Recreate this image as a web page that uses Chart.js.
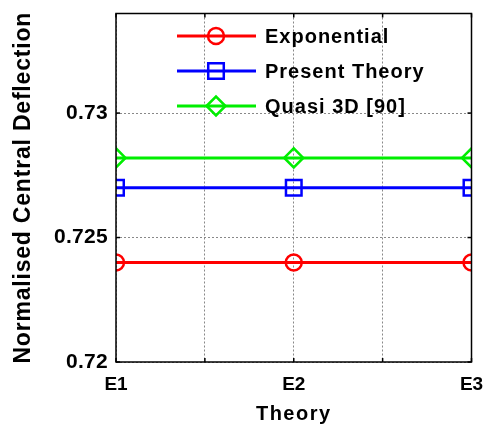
<!DOCTYPE html>
<html><head><meta charset="utf-8">
<script src="https://cdn.jsdelivr.net/npm/chart.js@4.4.0/dist/chart.umd.min.js"></script>
<style>html,body{margin:0;padding:0;background:#fff}#wrap{width:485px;height:430px}</style>
</head><body><div id="wrap"><canvas id="c" width="485" height="430"></canvas></div>
<script>
const categories = ['E1', 'E2', 'E3'];
const exponential = [0.7240, 0.7240, 0.7240];
const presentTheory = [0.7270, 0.7270, 0.7270];
const quasi3D = [0.7282, 0.7282, 0.7282];
const yTickValues = [0.72, 0.725, 0.73];
const seriesNames = ['Exponential', 'Present Theory', 'Quasi 3D [90]'];

const FONT = '"Liberation Sans", Arial, sans-serif';
const pts = arr => arr.map((v, i) => ({x: i + 1, y: v}));

function ds(label, data, color, style, radius) {
  return {label, data: pts(data), borderColor: color, backgroundColor: 'rgba(0,0,0,0)',
    borderWidth: 3, pointStyle: style, pointRadius: radius, pointHoverRadius: radius,
    pointBorderWidth: 2.5, pointBorderColor: color, pointBackgroundColor: 'rgba(0,0,0,0)', tension: 0};
}

function spaced(scale, titleSp, labelSp) {
  if (scale._patched) return;
  scale._patched = true;
  const dt = scale.drawTitle, dl = scale.drawLabels;
  scale.drawTitle = function (...a) { const c = this.ctx; c.save(); c.letterSpacing = titleSp; dt.apply(this, a); c.restore(); };
  scale.drawLabels = function (...a) { const c = this.ctx; c.save(); c.letterSpacing = labelSp; dl.apply(this, a); c.restore(); };
}

const boxPlugin = {
  id: 'box',
  afterDatasetsDraw(chart) {
    const {ctx, chartArea: a, scales: {x, y}} = chart;
    ctx.save();
    ctx.strokeStyle = '#000'; ctx.lineWidth = 1.5;
    ctx.strokeRect(a.left, a.top, a.right - a.left, a.bottom - a.top);
    [1, 1.5, 2, 2.5, 3].forEach(v => {
      const px = x.getPixelForValue(v);
      ctx.beginPath(); ctx.moveTo(px, a.bottom); ctx.lineTo(px, a.bottom - 4); ctx.stroke();
      ctx.beginPath(); ctx.moveTo(px, a.top); ctx.lineTo(px, a.top + 4); ctx.stroke();
    });
    yTickValues.forEach(v => {
      const py = y.getPixelForValue(v);
      ctx.beginPath(); ctx.moveTo(a.left, py); ctx.lineTo(a.left + 4, py); ctx.stroke();
      ctx.beginPath(); ctx.moveTo(a.right, py); ctx.lineTo(a.right - 4, py); ctx.stroke();
    });
    // legend inside plot
    chart.data.datasets.forEach((d, i) => {
      const cy = 36 + i * 35;
      ctx.strokeStyle = d.borderColor; ctx.lineWidth = 3;
      ctx.beginPath(); ctx.moveTo(177, cy); ctx.lineTo(256, cy); ctx.stroke();
      ctx.lineWidth = 2.5; ctx.fillStyle = 'rgba(0,0,0,0)';
      Chart.helpers.drawPoint(ctx, {pointStyle: d.pointStyle, radius: d.pointRadius, borderWidth: 2.5, rotation: 0}, 216, cy);
      ctx.fillStyle = '#000'; ctx.font = 'bold 20px ' + FONT; ctx.textBaseline = 'middle'; ctx.textAlign = 'left';
      ctx.letterSpacing = '1px';
      ctx.fillText(d.label, 265, cy + 1);
      ctx.letterSpacing = '0px';
    });
    ctx.restore();
  }
};

new Chart(document.getElementById('c'), {
  type: 'line',
  data: {datasets: [
    ds(seriesNames[0], exponential, '#ff0000', 'circle', 8),
    ds(seriesNames[1], presentTheory, '#0000ff', 'rect', 11),
    ds(seriesNames[2], quasi3D, '#00ee00', 'rectRot', 9.5)
  ]},
  options: {
    responsive: false, animation: false, devicePixelRatio: 1,
    layout: {padding: {top: 7, right: 13, left: 0, bottom: 0}},
    plugins: {legend: {display: false}, tooltip: {enabled: false}},
    scales: {
      x: {type: 'linear', min: 1, max: 3,
        afterBuildTicks: s => { s.ticks = [1, 1.5, 2, 2.5, 3].map(v => ({value: v})); },
        afterFit: s => { s.height = 68; s.paddingLeft = 0; s.paddingRight = 0; spaced(s, '1.5px', '0px'); },
        grid: {color: '#888', lineWidth: 1, drawTicks: false, tickLength: 0},
        border: {display: false, dash: [2, 2]},
        ticks: {autoSkip: false, maxRotation: 0, padding: 11, color: '#000', font: {family: FONT, size: 19, weight: 'bold'},
          callback: v => Number.isInteger(v) ? categories[v - 1] : ''},
        title: {display: true, text: 'Theory', color: '#000', font: {family: FONT, size: 20, weight: 'bold'}, padding: {top: 0, bottom: 4}}
      },
      y: {type: 'linear', min: 0.72, max: 0.734,
        afterBuildTicks: s => { s.ticks = yTickValues.map(v => ({value: v})); },
        afterFit: s => { s.width = 116; s.paddingTop = 0; s.paddingBottom = 0; spaced(s, '0.8px', '0.3px'); },
        grid: {color: '#888', lineWidth: 1, drawTicks: false, tickLength: 0},
        border: {display: false, dash: [2, 2]},
        ticks: {padding: 8, color: '#000', font: {family: FONT, size: 21, weight: 'bold'},
          callback: v => String(+v.toFixed(3))},
        title: {display: true, text: 'Normalised Central Deflection', color: '#000', font: {family: FONT, size: 23, weight: 'bold'}, padding: {top: 10, bottom: 0}}
      }
    }
  },
  plugins: [boxPlugin]
});
</script></body></html>
